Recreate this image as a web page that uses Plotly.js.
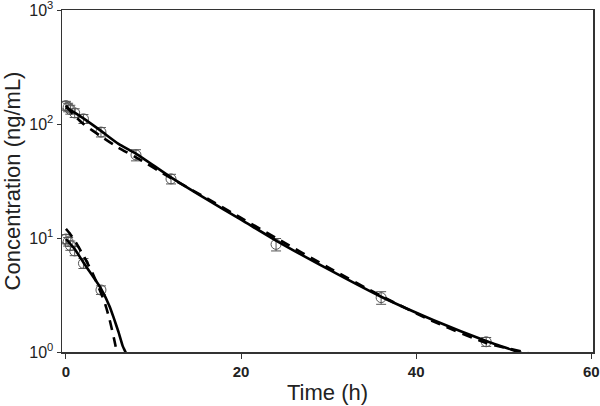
<!DOCTYPE html>
<html>
<head>
<meta charset="utf-8">
<script src="https://cdn.plot.ly/plotly-3.0.1.min.js"></script>
<style>
  html, body { margin: 0; padding: 0; background: #fff; }
  #chart { width: 600px; height: 406px; }
</style>
</head>
<body>
<div id="chart"></div>
<script>
// observed means (open circles) with error bars
const parentTime = [0, 0.25, 0.5, 1, 2, 4, 8, 12, 24, 36, 48];
const parentConc = [145, 140, 134, 125, 111, 85, 53.5, 33, 8.8, 3.0, 1.23];
const parentErr = [13, 12, 12, 11, 10, 8, 6, 3.2, 1.1, 0.38, 0.11];

const metabTime = [0, 0.25, 0.5, 1, 2, 4];
const metabConc = [9.8, 9.3, 8.6, 7.7, 6.0, 3.5];
const metabErr = [0.9, 0.8, 0.8, 0.7, 0.6, 0.3];

// fitted curves
const parentFitTime = [0, 1, 2, 4, 6, 8, 12, 16, 20, 24, 30, 36, 42, 48, 52, 53];
const parentFitSolid = [140, 126, 112, 87, 67, 55, 34, 22, 14.5, 9.5, 5.3, 3.05, 1.9, 1.25, 0.98, 0.92];
const parentDashTime = [0, 1, 2, 4, 6, 8, 12, 16, 20, 24, 30, 36, 42, 48, 53, 54];
const parentFitDash = [145, 118, 100, 78, 62, 51, 33.5, 22.5, 15, 10, 5.5, 3.1, 1.85, 1.2, 0.97, 0.92];

const metabFitTime = [0, 1, 2, 3, 4, 5, 5.5, 6, 6.5, 6.8, 7];
const metabFitSolid = [9.8, 8.0, 6.1, 4.7, 3.6, 2.5, 1.95, 1.5, 1.12, 1.0, 0.85];
const metabDashTime = [0, 0.5, 1, 2, 3, 4, 4.5, 5, 5.5, 5.8, 6];
const metabFitDash = [12.0, 10.8, 9.5, 7.0, 5.0, 3.3, 2.6, 1.9, 1.3, 1.0, 0.75];

const yTickVals = [1, 10, 100, 1000];
const yTickText = ["10<sup>0</sup>", "10<sup>1</sup>", "10<sup>2</sup>", "10<sup>3</sup>"];
const xTickVals = [0, 20, 40, 60];

function observed(x, y, err) {
  return {
    x: x, y: y, type: "scatter", mode: "markers",
    marker: { symbol: "circle-open", size: 10, color: "#555", line: { width: 1, color: "#555" } },
    error_y: { type: "data", array: err, visible: true, color: "#555", thickness: 1, width: 5 },
    showlegend: false, hoverinfo: "skip"
  };
}

function fit(x, y, dash) {
  return {
    x: x, y: y, type: "scatter", mode: "lines",
    line: { color: "#000", width: 2.6, dash: dash, shape: "spline", smoothing: 0.6 },
    showlegend: false, hoverinfo: "skip"
  };
}

const traces = [
  observed(parentTime, parentConc, parentErr),
  observed(metabTime, metabConc, metabErr),
  fit(parentFitTime, parentFitSolid, "solid"),
  fit(parentDashTime, parentFitDash, "10px,7px"),
  fit(metabFitTime, metabFitSolid, "solid"),
  fit(metabDashTime, metabFitDash, "10px,7px")
];

const layout = {
  width: 600, height: 406,
  margin: { l: 62, r: 7, t: 10, b: 54 },
  paper_bgcolor: "#fff", plot_bgcolor: "#fff",
  font: { family: "Liberation Sans, Arial, sans-serif", color: "#222" },
  xaxis: {
    range: [-0.45, 60.2],
    tickvals: xTickVals,
    ticks: "outside", ticklen: 5, tickwidth: 1, tickcolor: "#333",
    tickfont: { size: 15, family: "Liberation Sans, Arial, sans-serif", weight: "bold", color: "#222" },
    ticklabeloverflow: "allow",
    showline: true, linecolor: "#333", linewidth: 1.5, mirror: true,
    showgrid: false, zeroline: false,
    title: { text: "Time (h)", font: { size: 22, color: "#222" }, standoff: 6 }
  },
  yaxis: {
    type: "log", range: [0, 3],
    tickvals: yTickVals, ticktext: yTickText,
    ticks: "outside", ticklen: 4, tickwidth: 1, tickcolor: "#333",
    tickfont: { size: 16, color: "#222" },
    ticklabeloverflow: "allow",
    showline: true, linecolor: "#333", linewidth: 1.5, mirror: true,
    showgrid: false, zeroline: false,
    title: { text: "Concentration (ng/mL)", font: { size: 22, color: "#222" }, standoff: 5 }
  }
};

Plotly.newPlot("chart", traces, layout, { staticPlot: true, displayModeBar: false });
</script>
</body>
</html>
